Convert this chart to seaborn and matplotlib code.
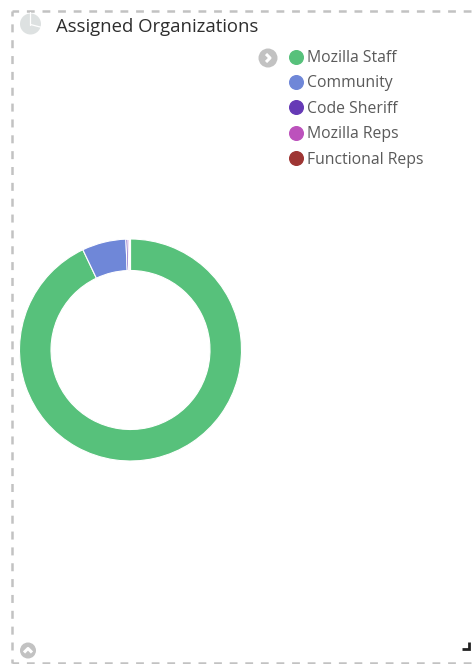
import matplotlib
matplotlib.use("Agg")
import matplotlib.pyplot as plt
from matplotlib.lines import Line2D
from matplotlib.patches import Circle
import seaborn as sns

title = "Assigned Organizations"
categories = ["Mozilla Staff", "Community", "Code Sheriff", "Mozilla Reps", "Functional Reps"]
values = [92.94, 6.4, 0.3, 0.2, 0.16]
colors = ["#57c17b", "#6f87d8", "#663ab6", "#bc52bc", "#9e3533"]

W, H = 477, 664
sns.set_theme(style="white")
plt.rcParams["font.family"] = ["Open Sans", "DejaVu Sans"]
palette = sns.color_palette(colors)

fig = plt.figure(figsize=(W / 100, H / 100), dpi=100, facecolor="white")

# Overlay in pixel coordinates for the panel furniture
bg = fig.add_axes([0, 0, 1, 1])
bg.set_xlim(0, W)
bg.set_ylim(H, 0)
bg.axis("off")

grey = "#c2c2c2"
dash_h = dict(color=grey, lw=1.8, ls=(0, (3.12, 3.12)), dash_capstyle="butt")
dash_v = dict(color=grey, lw=1.8, ls=(0, (3.2, 3.14)), dash_capstyle="butt")
bg.plot([471, 12], [10.5, 10.5], **dash_h)
bg.plot([471, 12], [663, 663], **dash_h)
bg.plot([12, 12], [650, 10.5], **dash_v)
bg.plot([12, 12], [659, 663], color=grey, lw=1.8, solid_capstyle="butt")

# Header pie icon
bg.add_patch(Circle((30.5, 24), 10.5, fc="#dde1e1", ec="none"))
bg.plot([30.5, 30.5], [12, 24.5], color="white", lw=0.9)
bg.plot([30.5, 42], [24.5, 27.5], color="white", lw=0.9)
bg.text(56, 26.5, title, fontsize=13.3, color="#2e2e2e", va="center", ha="left")


def chevron(cx, cy, rad, up):
    bg.add_patch(Circle((cx, cy), rad, fc="#c2c2c2", ec="none"))
    if up:
        xs, ys = [cx - 4, cx, cx + 4], [cy + 2, cy - 2, cy + 2]
    else:
        xs, ys = [cx - 2, cx + 2, cx - 2], [cy - 4, cy, cy + 4]
    bg.plot(xs, ys, color="white", lw=2.2, solid_capstyle="butt")


chevron(268, 58, 9.5, False)
chevron(28, 650.5, 8, True)

# Resize handle
bg.plot([462, 469, 469], [649, 649, 642], color="#222222", lw=2, solid_capstyle="butt",
        solid_joinstyle="miter")

# Donut, placed in its own axes
cx, cy, r = 130.5, 350, 111
ax = fig.add_axes([(cx - r) / W, 1 - (cy + r) / H, 2 * r / W, 2 * r / H])
ax.pie(values, colors=palette, startangle=90, counterclock=False,
       radius=1.0, center=(0, 0), wedgeprops=dict(width=31.5 / 111, ec="white", lw=0.8))
ax.set_xlim(-1, 1)
ax.set_ylim(-1, 1)
ax.set_aspect("equal")
ax.axis("off")

# Legend
handles = [Line2D([], [], ls="", marker="o", ms=9.8, mfc=c, mec=c, label=n)
           for n, c in zip(categories, palette)]
leg = fig.legend(handles=handles, loc="upper left",
                 bbox_to_anchor=(284 / W, 1 - 50 / H), frameon=False,
                 fontsize=11.3, labelcolor="#5a5a5a", labelspacing=0.6,
                 handletextpad=-0.05, handlelength=1.5, borderpad=0, borderaxespad=0)

fig.savefig("out.png", dpi=100, facecolor="white")
